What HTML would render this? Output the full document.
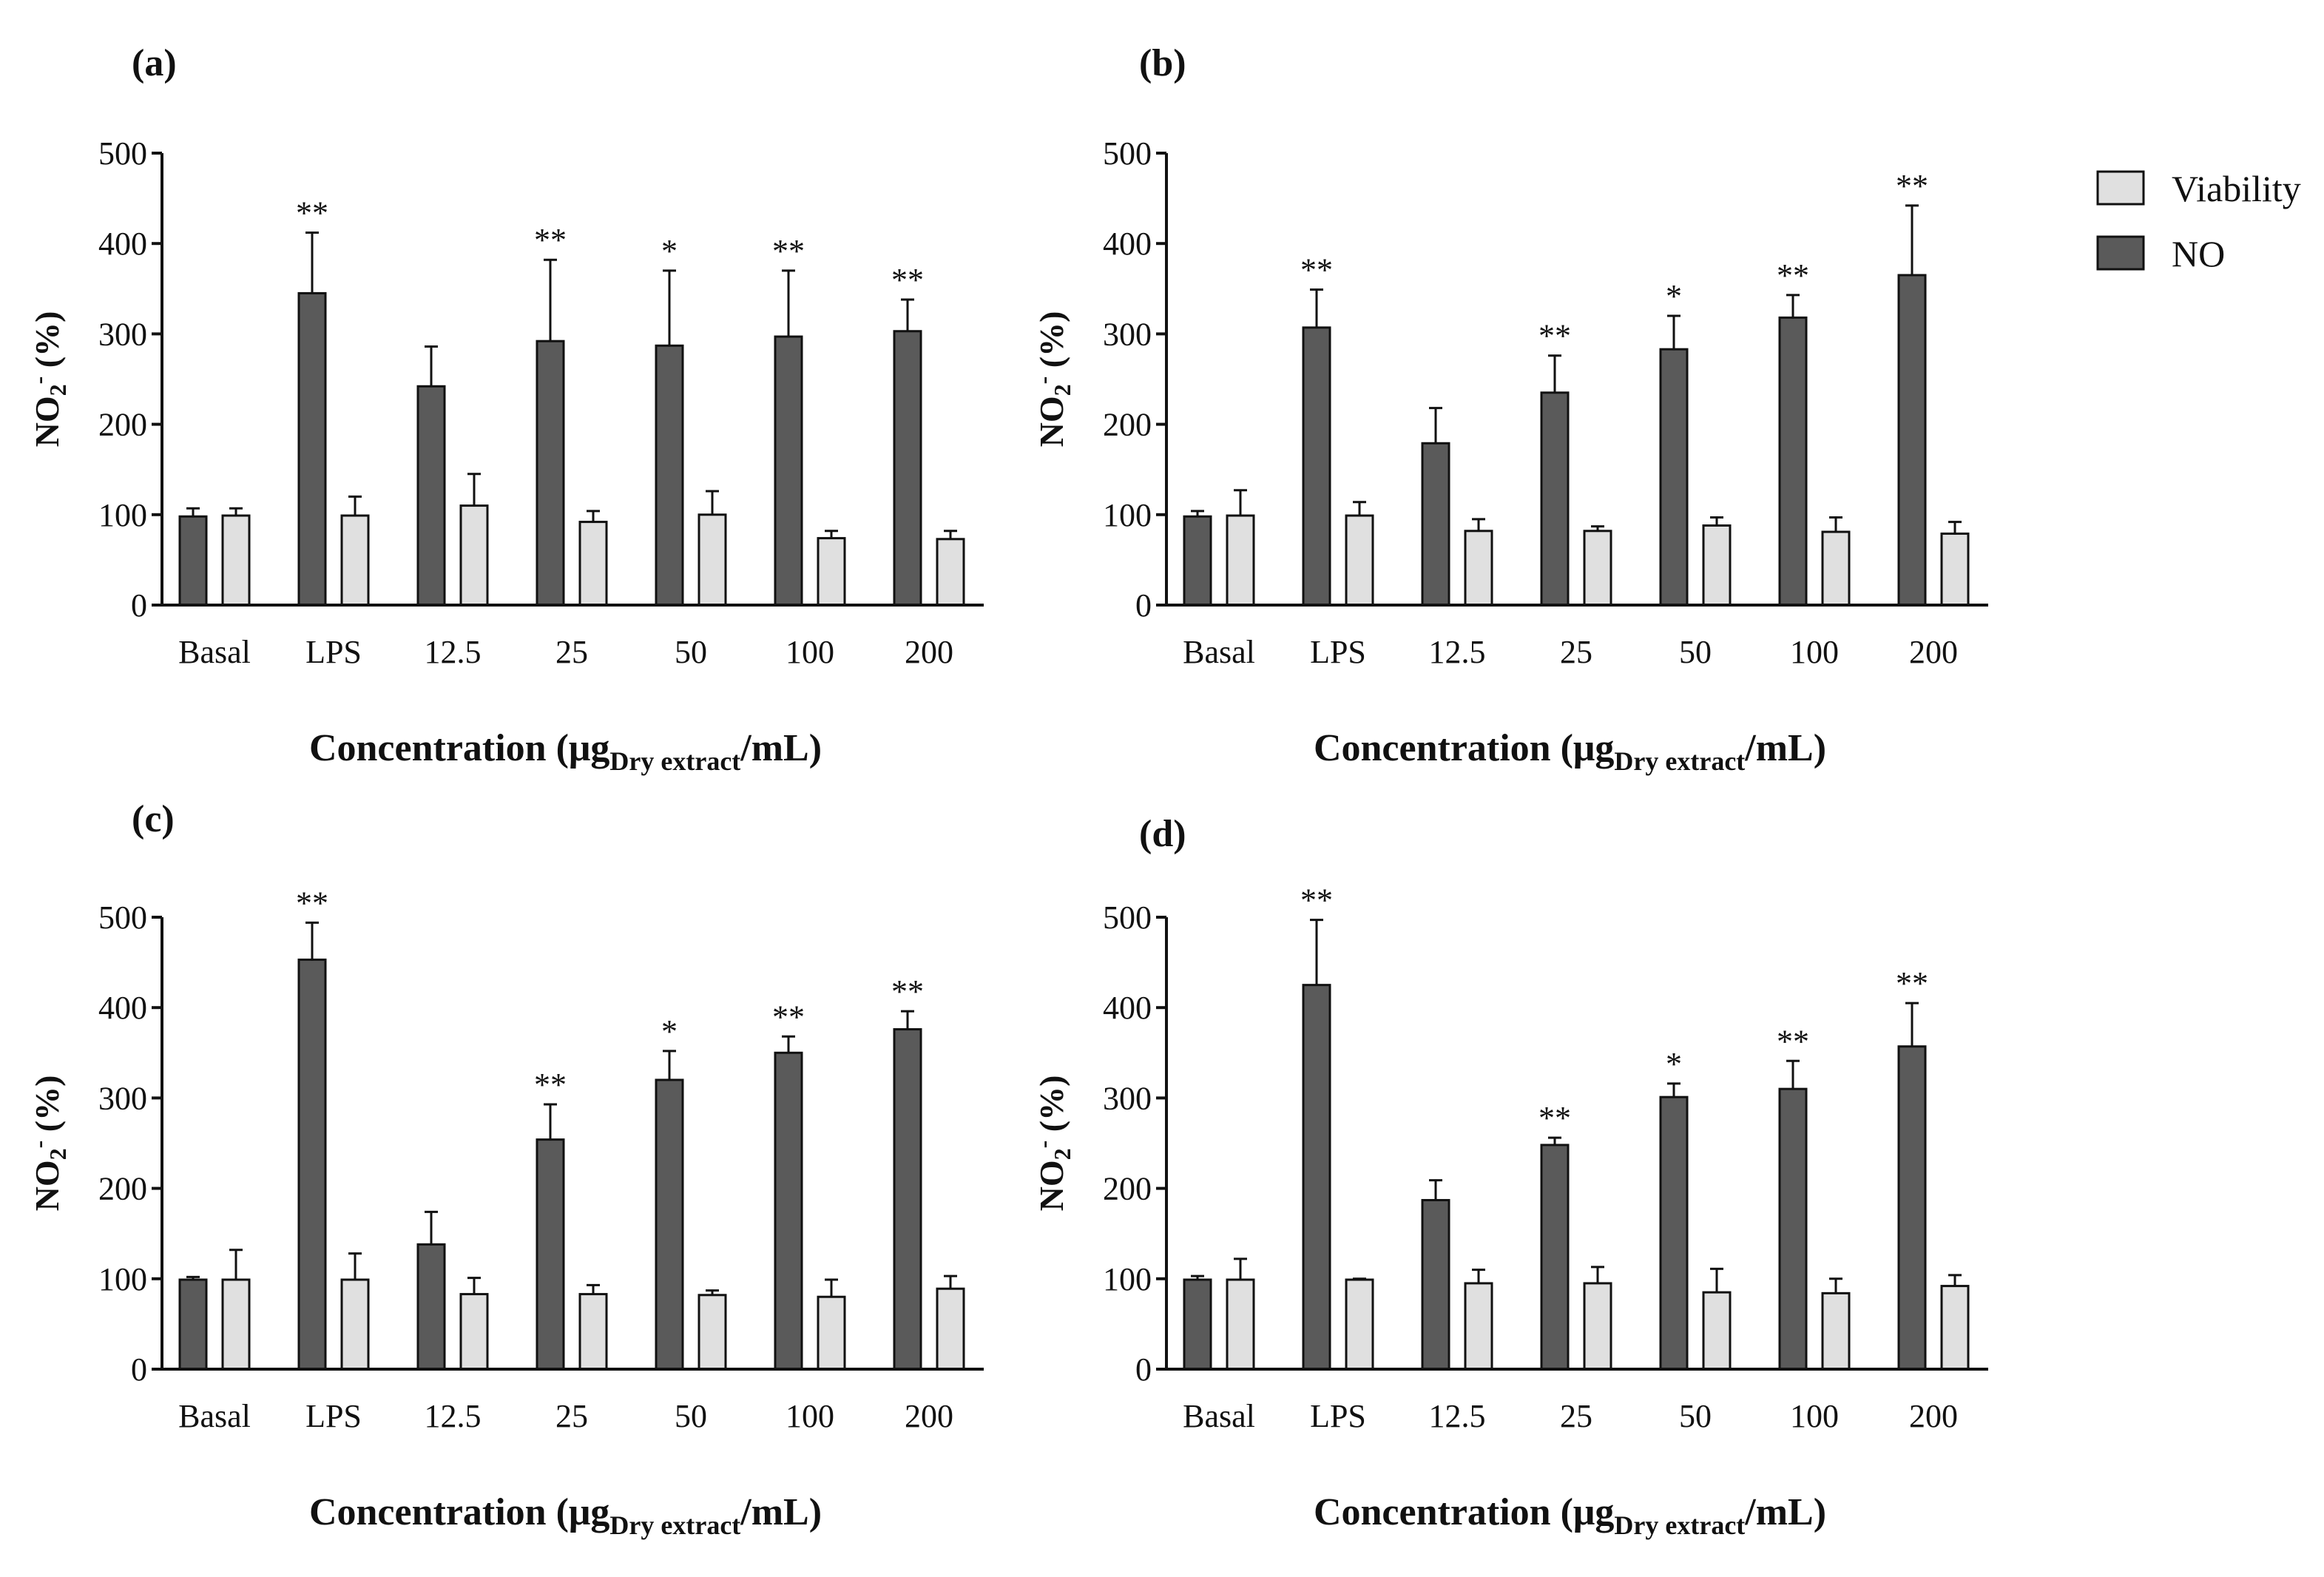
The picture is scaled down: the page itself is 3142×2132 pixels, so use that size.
<!DOCTYPE html>
<html><head><meta charset="utf-8"><style>
html,body{margin:0;padding:0;background:#fff}
svg{display:block}
text{font-family:"Liberation Serif",serif;fill:#111}
</style></head><body>
<svg id="chart" width="3142" height="2132" viewBox="0 0 3142 2132" xmlns="http://www.w3.org/2000/svg">
<rect width="3142" height="2132" fill="#fff"/>
<g>
<rect x="2836" y="232" width="62" height="44" fill="#e0e0e0" stroke="#111" stroke-width="3"/>
<text x="2936" y="272" font-size="50">Viability</text>
<rect x="2836" y="320" width="62" height="44" fill="#5a5a5a" stroke="#111" stroke-width="3"/>
<text x="2936" y="360" font-size="50">NO</text>
</g>
</svg>
<script>
const categories = ["Basal","LPS","12.5","25","50","100","200"];
const yTicks = [0,100,200,300,400,500];
const noA = [98,345,242,292,287,297,303];
const noErrA = [107,412,286,382,370,370,338];
const viaA = [99,99,110,92,100,74,73];
const viaErrA = [107,120,145,104,126,82,82];
const starsA = ["","**","","**","*","**","**"];
const noB = [98,307,179,235,283,318,365];
const noErrB = [104,349,218,276,320,343,442];
const viaB = [99,99,82,82,88,81,79];
const viaErrB = [127,114,95,87,97,97,92];
const starsB = ["","**","","**","*","**","**"];
const noC = [99,453,138,254,320,350,376];
const noErrC = [102,494,174,293,352,368,396];
const viaC = [99,99,83,83,82,80,89];
const viaErrC = [132,128,101,93,87,99,103];
const starsC = ["","**","","**","*","**","**"];
const noD = [99,425,187,248,301,310,357];
const noErrD = [103,497,209,256,316,341,405];
const viaD = [99,99,95,95,85,84,92];
const viaErrD = [122,100,110,113,111,100,104];
const starsD = ["","**","","**","*","**","**"];

const NS = "http://www.w3.org/2000/svg";
const svg = document.getElementById("chart");
function mk(tag, attrs, parent){
  const e = document.createElementNS(NS, tag);
  for (const k in attrs) e.setAttribute(k, attrs[k]);
  parent.appendChild(e);
  return e;
}
const panels = [
  {id:"a", x0:219, x1:1330, yTop:207, yZero:818, lx:178, ly:102, no:noA, noE:noErrA, v:viaA, vE:viaErrA, s:starsA},
  {id:"b", x0:1577, x1:2688, yTop:207, yZero:818, lx:1540, ly:102, no:noB, noE:noErrB, v:viaB, vE:viaErrB, s:starsB},
  {id:"c", x0:219, x1:1330, yTop:1240, yZero:1851, lx:178, ly:1124, no:noC, noE:noErrC, v:viaC, vE:viaErrC, s:starsC},
  {id:"d", x0:1577, x1:2688, yTop:1240, yZero:1851, lx:1540, ly:1144, no:noD, noE:noErrD, v:viaD, vE:viaErrD, s:starsD}
];
panels.forEach(p => {
  const g = mk("g", {}, svg);
  
  
  const yS = v => p.yZero - (v / 500) * (p.yZero - p.yTop);
  const xC = i => p.x0 + 71 + i * 161;
  const lab = mk("text", {x:p.lx, y:p.ly, "font-size":52, "font-weight":"bold"}, g);
  lab.textContent = "(" + p.id + ")";
  
  
  categories.forEach((c, i) => {
    const cx = xC(i);
    [[p.no[i], p.noE[i], cx - 29, "#5a5a5a", "bar-no"], [p.v[i], p.vE[i], cx + 29, "#e0e0e0", "bar-viability"]].forEach(b => {
      const [val, top, bx, fill, nm] = b;
      const eb = mk("path", {d:`M${bx} ${yS(val)}V${yS(top)}M${bx-9} ${yS(top)}H${bx+9}`, stroke:"#111", "stroke-width":3, fill:"none"}, g);
      
      
      const r = mk("rect", {x:bx-18, y:yS(val), width:36, height:yS(0)-yS(val), fill:fill, stroke:"#111", "stroke-width":3}, g);
      
      
    });
    if (p.s[i]) {
      const st = mk("text", {x:cx - 29, y:yS(p.noE[i]) - 12, "font-size":44, "text-anchor":"middle"}, g);
      st.textContent = p.s[i];
      
      
    }
    const cl = mk("text", {x:cx, y:p.yZero + 78, "font-size":44, "text-anchor":"middle"}, g);
    cl.textContent = c;
    
    
  });
  const ax = mk("path", {d:`M${p.x0} ${p.yTop}V${p.yZero}H${p.x1}`, stroke:"#111", "stroke-width":4, fill:"none"}, g);
  
  
  yTicks.forEach(t => {
    const tk = mk("line", {x1:p.x0 - 14, x2:p.x0, y1:yS(t), y2:yS(t), stroke:"#111", "stroke-width":4}, g);
    
    
    const tl = mk("text", {x:p.x0 - 20, y:yS(t) + 15, "font-size":44, "text-anchor":"end"}, g);
    tl.textContent = t;
    
    
  });
  const yt = mk("text", {transform:`translate(${p.x0 - 140},${(p.yTop + p.yZero)/2}) rotate(-90)`, "font-size":46, "font-weight":"bold", "text-anchor":"middle"}, g);
  yt.innerHTML = 'NO<tspan font-size="32" dy="10">2</tspan><tspan font-size="32" dy="-26">-</tspan><tspan dy="16"> (%)</tspan>';
  
  
  const xt = mk("text", {x:(p.x0 + p.x1)/2 - 10, y:p.yZero + 210, "font-size":52, "font-weight":"bold", "text-anchor":"middle"}, g);
  xt.innerHTML = 'Concentration (μg<tspan font-size="36" dy="13">Dry extract</tspan><tspan dy="-13">/mL)</tspan>';
  
  
});
</script>
</body></html>
